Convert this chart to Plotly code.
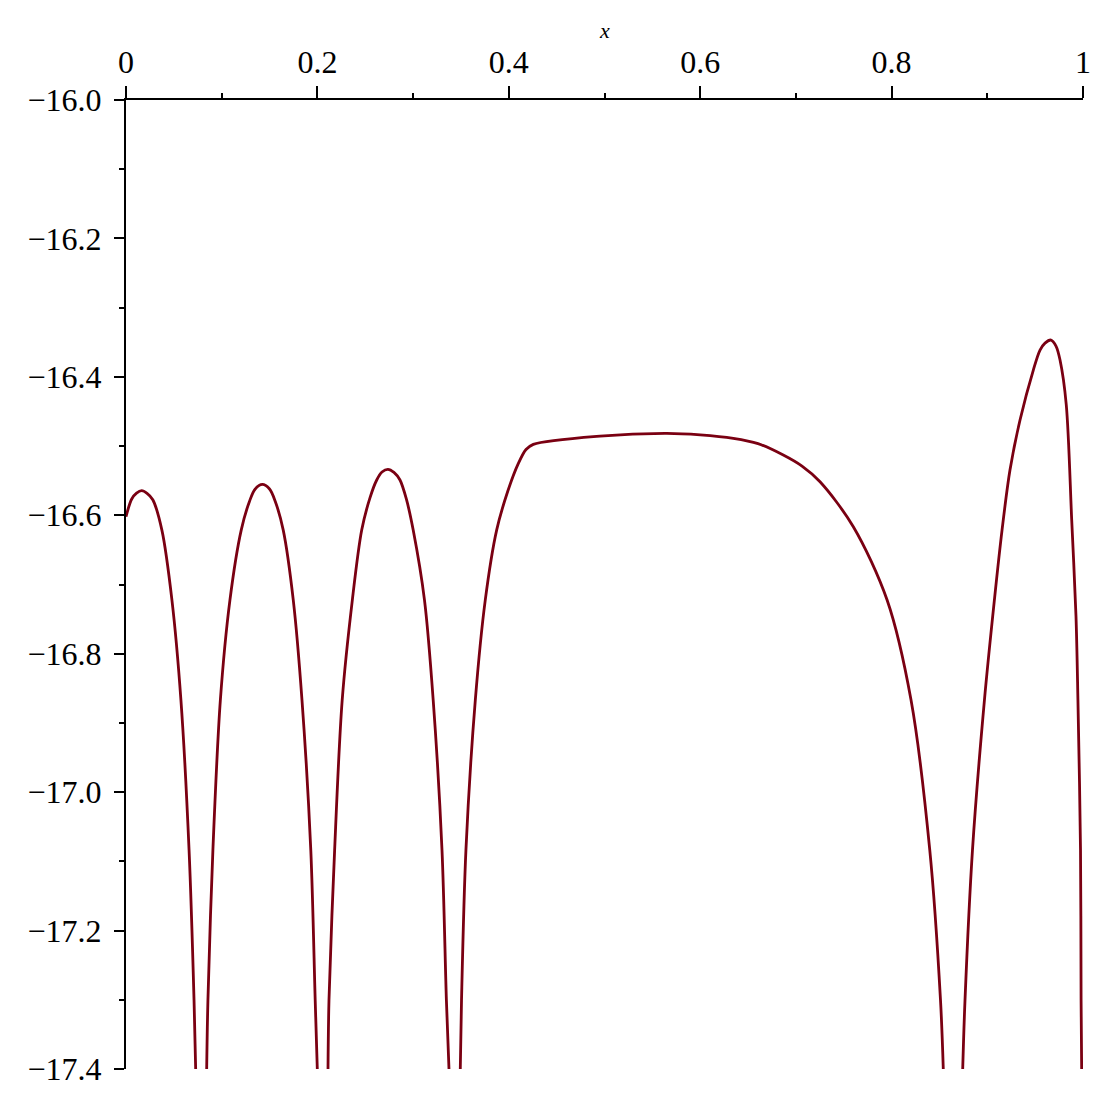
import plotly.graph_objects as go

# values, one branch per list (gaps at the poles)
x_a = [0.0, 0.006, 0.011, 0.0164, 0.022, 0.028, 0.0375, 0.048, 0.0574, 0.0659, 0.0711, 0.0728]
y_a = [-16.602, -16.5765, -16.5681, -16.5645, -16.5684, -16.5776, -16.6214, -16.7225, -16.867, -17.0838, -17.3006, -17.4]

x_b = [0.0843, 0.0856, 0.0908, 0.0986, 0.1086, 0.1204, 0.129, 0.135, 0.1425, 0.15,
       0.156, 0.1643, 0.1748, 0.1839, 0.1931, 0.1977, 0.1999]
y_b = [-17.4, -17.3006, -17.0838, -16.867, -16.7225, -16.6214, -16.58, -16.562, -16.5554, -16.562,
       -16.58, -16.6214, -16.7225, -16.867, -17.0838, -17.3006, -17.4]

x_c = [0.2111, 0.2121, 0.218, 0.2259, 0.2365, 0.2463, 0.255, 0.262, 0.2675, 0.2737, 0.28,
       0.2863, 0.293, 0.3001, 0.3119, 0.321, 0.3302, 0.3348, 0.3375]
y_c = [-17.4, -17.3006, -17.0838, -16.867, -16.7225, -16.6214, -16.5745, -16.549, -16.5375, -16.5336, -16.538,
       -16.549, -16.5768, -16.6214, -16.7225, -16.867, -17.0838, -17.3006, -17.4]

x_d = [0.3493, 0.3506, 0.3552, 0.365, 0.3754, 0.3873, 0.399, 0.41, 0.418, 0.4256,
       0.4953, 0.565, 0.6, 0.6346, 0.6604, 0.6868, 0.7064, 0.7252, 0.76, 0.7953, 0.8203, 0.8399, 0.8511, 0.854]
y_d = [-17.4, -17.3006, -17.0838, -16.867, -16.7225, -16.6214, -16.565, -16.525, -16.505, -16.4975,
       -16.4855, -16.4816, -16.4838, -16.4889, -16.4965, -16.513, -16.529, -16.5516, -16.6165, -16.7225,
       -16.867, -17.0838, -17.3006, -17.4]

x_e = [0.8743, 0.8767, 0.8845, 0.897, 0.9074, 0.9154, 0.9237, 0.9342, 0.9481, 0.9551, 0.9603, 0.9666,
       0.9718, 0.976, 0.9825, 0.9882, 0.9927, 0.9947, 0.9974, 0.998, 0.9986]
y_e = [-17.4, -17.3006, -17.0838, -16.867, -16.7225, -16.6214, -16.5347, -16.4624, -16.3902, -16.3613, -16.3512, -16.3468,
       -16.3555, -16.3757, -16.44, -16.6069, -16.7466, -16.867, -17.0838, -17.3006, -17.4]

x_ticks = [0, 0.2, 0.4, 0.6, 0.8, 1]
x_labels = ["0", "0.2", "0.4", "0.6", "0.8", "1"]
y_ticks = [-16.0, -16.2, -16.4, -16.6, -16.8, -17.0, -17.2, -17.4]
y_labels = ["\u221216.0", "\u221216.2", "\u221216.4", "\u221216.6", "\u221216.8", "\u221217.0", "\u221217.2", "\u221217.4"]

fig = go.Figure()
for bx, by in [(x_a, y_a), (x_b, y_b), (x_c, y_c), (x_d, y_d), (x_e, y_e)]:
    fig.add_trace(go.Scatter(x=bx, y=by, mode="lines",
                             line=dict(color="#7a0012", width=2.8, shape="spline", smoothing=0.9),
                             showlegend=False, hoverinfo="x+y"))

font = dict(family="Liberation Serif, Times New Roman, serif", size=32, color="black")

# page body adds an 8px margin, so the margins are trimmed to land the axes where the reference has them
fig.update_layout(
    width=1104, height=1104,
    margin=dict(l=118, r=29, t=92, b=43),
    plot_bgcolor="white", paper_bgcolor="white",
    font=font,
    xaxis=dict(range=[0, 1], side="top", showline=True, linecolor="black", linewidth=2,
               ticks="outside", ticklen=12, tickwidth=2, tickcolor="black", automargin=False,
               tickvals=x_ticks, ticktext=x_labels, showgrid=False, zeroline=False,
               minor=dict(dtick=0.1, ticklen=5, tickwidth=2, tickcolor="black", showgrid=False, ticks="outside")),
    yaxis=dict(range=[-17.4, -16.0], showline=True, linecolor="black", linewidth=2,
               ticks="outside", ticklen=10, tickwidth=2, tickcolor="black", automargin=False,
               ticklabelstandoff=6,
               tickvals=y_ticks, ticktext=y_labels, showgrid=False, zeroline=False,
               minor=dict(dtick=0.1, ticklen=5, tickwidth=2, tickcolor="black", showgrid=False, ticks="outside")),
)

fig.add_annotation(text="<i>x</i>", xref="paper", yref="paper", x=0.5, y=1.072, yanchor="middle",
                   showarrow=False, font=dict(family="Liberation Serif, serif", size=22, color="black"))

fig.write_html("out.html")
